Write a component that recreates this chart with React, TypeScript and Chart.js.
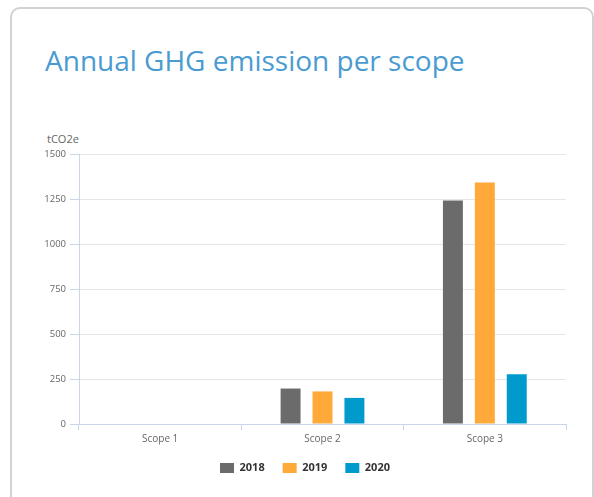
import React, { useEffect, useRef } from "react";
import { Chart, registerables } from "chart.js";

Chart.register(...registerables);

const categories = ["Scope 1", "Scope 2", "Scope 3"];
const seriesNames = ["2018", "2019", "2020"];
const values2018 = [0, 197, 1242];
const values2019 = [0, 181, 1341];
const values2020 = [0, 145, 276];
const seriesColors = ["#6b6b6b", "#ffa93b", "#009acd"];
const yTicks = [0, 250, 500, 750, 1000, 1250, 1500];

const FONT = "'Open Sans', 'Noto Sans', sans-serif";

export default function App() {
  const ref = useRef<HTMLCanvasElement | null>(null);

  useEffect(() => {
    if (!ref.current) return;
    const seriesValues = [values2018, values2019, values2020];
    const chart = new Chart(ref.current, {
      type: "bar",
      data: {
        labels: categories,
        datasets: seriesNames.map((name, i) => ({
          label: name,
          data: seriesValues[i],
          backgroundColor: seriesColors[i],
          borderWidth: 0,
          barPercentage: 0.625,
          categoryPercentage: 0.59,
        })),
      },
      options: {
        responsive: false,
        animation: false,
        layout: { padding: { left: 44, right: 28, top: 154, bottom: 13.5 } },
        plugins: {
          tooltip: { enabled: false },
          legend: {
            position: "bottom",
            labels: {
              boxWidth: 14,
              boxHeight: 10,
              padding: 18,
              color: "#333333",
              font: { size: 11, weight: "bold", family: FONT },
            },
          },
        },
        scales: {
          x: {
            grid: {
              offset: true,
              drawOnChartArea: false,
              drawTicks: true,
              tickLength: 6,
              tickColor: "#ccd6eb",
            },
            border: { color: "#ccd6eb", width: 1 },
            ticks: { color: "#666666", padding: 3, font: { size: 10, family: FONT } },
            afterFit: (s: any) => {
              s.height = 20.5;
            },
          },
          y: {
            min: 0,
            max: 1500,
            afterBuildTicks: (s: any) => {
              s.ticks = yTicks.map((v) => ({ value: v }));
            },
            ticks: {
              color: "#666666",
              padding: 4,
              font: { size: 9.5, family: FONT },
              callback: (v: any) => String(v),
            },
            grid: { color: "#e6e6e6", tickColor: "#ccd6eb", tickLength: 9 },
            border: { color: "#ccd6eb", width: 1 },
            afterFit: (s: any) => {
              s.width = 35;
            },
          },
        },
      },
    });
    return () => chart.destroy();
  }, []);

  return (
    <div
      style={{
        position: "fixed",
        left: 0,
        top: 0,
        width: 594,
        height: 497,
        overflow: "hidden",
        background: "#ffffff",
        fontFamily: FONT,
      }}
    >
      <div
        style={{
          position: "absolute",
          left: 10,
          top: 7,
          width: 580,
          height: 520,
          border: "2px solid #d2d2d2",
          borderRadius: 10,
          boxSizing: "content-box",
        }}
      />
      <div
        style={{
          position: "absolute",
          left: 45,
          top: 46,
          fontSize: 28,
          lineHeight: "28px",
          color: "#4a9bd2",
          whiteSpace: "nowrap",
        }}
      >
        Annual GHG emission per scope
      </div>
      <div
        style={{
          position: "absolute",
          left: 47,
          top: 133,
          fontSize: 11,
          lineHeight: "11px",
          color: "#666666",
          whiteSpace: "nowrap",
        }}
      >
        tCO2e
      </div>
      <canvas
        ref={ref}
        width={594}
        height={497}
        style={{ position: "absolute", left: 0, top: 0, width: 594, height: 497 }}
      />
    </div>
  );
}
